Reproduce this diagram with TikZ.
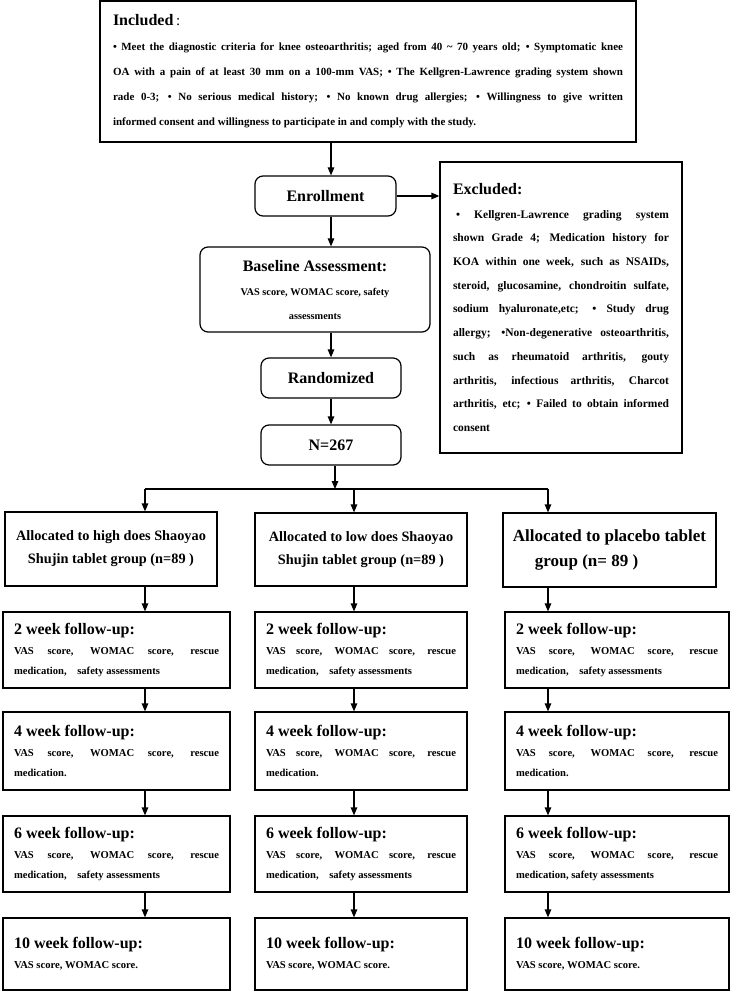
\documentclass[tikz,border=0pt]{standalone}
\usepackage{fontspec}
\setmainfont{Liberation Serif}
\usetikzlibrary{arrows.meta, positioning}
\newcommand{\boxhead}[1]{{\fontsize{16}{20}\selectfont #1}}
\tikzset{
    inclbox/.style={rectangle, draw, line width=1.2pt, align=justify, inner xsep=13pt,
                    font=\fontsize{11}{25}\selectfont\bfseries},
    exclbox/.style={rectangle, draw, line width=1.2pt, align=justify, inner xsep=13pt,
                    font=\fontsize{11.5}{23.7}\selectfont\bfseries},
    stepbox/.style={rectangle, rounded corners=8pt, draw, line width=1.2pt, align=center,
                    font=\fontsize{16}{20}\selectfont\bfseries},
    groupbox/.style={rectangle, draw, line width=1.2pt, align=center,
                     font=\fontsize{14.3}{23}\selectfont\bfseries},
    fubox/.style={rectangle, draw, line width=1.2pt, align=justify, inner xsep=11pt,
                  font=\fontsize{10.6}{20}\selectfont\bfseries},
    arrow/.style={-{Triangle[length=8pt, width=6.5pt]}, line width=1.2pt},
}

\begin{document}
\begin{tikzpicture}[x=1pt, y=-1pt]
            \useasboundingbox (0,0) rectangle (730,992);
            % screening and enrollment
            \node[inclbox, minimum width=536pt, minimum height=141pt, text width=510pt] (incl) at (368,71.5) {\boxhead{Included} {\mdseries\fontsize{15}{20}\selectfont :}\\
                • Meet the diagnostic criteria for knee osteoarthritis; aged from 40 \textasciitilde{} 70 years old; • Symptomatic knee\linebreak
                OA with a pain of at least 30 mm on a 100-mm VAS; • The Kellgren-Lawrence grading system shown\linebreak
                rade 0-3; • No serious medical history; • No known drug allergies; • Willingness to give written\linebreak
                informed consent and willingness to participate in and comply with the study.};
            \node[stepbox, minimum width=141pt, minimum height=40pt] (enrol) at (325.5,196) {Enrollment};
            \node[exclbox, minimum width=242pt, minimum height=291pt, text width=216pt] (excl) at (561,307.5) {\boxhead{Excluded:}\\
                \hspace*{3pt}• Kellgren-Lawrence grading system\linebreak
                shown Grade 4; Medication history for\linebreak
                KOA within one week, such as NSAIDs,\linebreak
                steroid, glucosamine, chondroitin sulfate,\linebreak
                sodium hyaluronate,etc; • Study drug\linebreak
                allergy; •Non-degenerative osteoarthritis,\linebreak
                such as rheumatoid arthritis, gouty\linebreak
                arthritis, infectious arthritis, Charcot\linebreak
                arthritis, etc; • Failed to obtain informed\linebreak
                consent};
            \node[stepbox, minimum width=230pt, minimum height=85pt, font=\fontsize{10.3}{24}\selectfont\bfseries] (base) at (315,289.5) {\boxhead{Baseline Assessment:}\\ VAS score, WOMAC score, safety\\ assessments};
            \node[stepbox, minimum width=140pt, minimum height=40pt] (rand) at (331,378) {Randomized};
            \node[stepbox, minimum width=140pt, minimum height=40pt] (total) at (331,445) {N=267};

            % allocation
            \node[groupbox, minimum width=212pt, minimum height=74pt] (highgrp) at (111,549) {Allocated to high does Shaoyao\\ Shujin tablet group (n=89 )};
            \node[groupbox, minimum width=212pt, minimum height=73pt] (lowgrp) at (361,549.5) {Allocated to low does Shaoyao\\ Shujin tablet group (n=89 )};
            \node[groupbox, minimum width=213pt, minimum height=74pt, align=left, font=\fontsize{17}{25}\selectfont\bfseries] (plagrp) at (609.5,550) {Allocated to placebo tablet\\ \hspace*{22pt}group (n= 89 )};

            % follow-up, high dose
            \node[fubox, minimum width=227pt, minimum height=76pt, text width=205pt] (highw2) at (116.5,650) {\boxhead{2 week follow-up:}\\ VAS score, WOMAC score, rescue\linebreak medication,\quad safety assessments};
            \node[fubox, minimum width=227pt, minimum height=78pt, text width=205pt] (highw4) at (116.5,751) {\boxhead{4 week follow-up:}\\ VAS score, WOMAC score, rescue\linebreak medication.};
            \node[fubox, minimum width=227pt, minimum height=76pt, text width=205pt] (highw6) at (116.5,854) {\boxhead{6 week follow-up:}\\ VAS score, WOMAC score, rescue\linebreak medication,\quad safety assessments};
            \node[fubox, minimum width=227pt, minimum height=72pt, text width=205pt] (highw10) at (116.5,954) {\boxhead{10 week follow-up:}\\ VAS score, WOMAC score.};

            % follow-up, low dose
            \node[fubox, minimum width=212pt, minimum height=76pt, text width=190pt] (loww2) at (361,650) {\boxhead{2 week follow-up:}\\ VAS score, WOMAC score, rescue\linebreak medication,\quad safety assessments};
            \node[fubox, minimum width=212pt, minimum height=78pt, text width=190pt] (loww4) at (361,751) {\boxhead{4 week follow-up:}\\ VAS score, WOMAC score, rescue\linebreak medication.};
            \node[fubox, minimum width=212pt, minimum height=76pt, text width=190pt] (loww6) at (361,854) {\boxhead{6 week follow-up:}\\ VAS score, WOMAC score, rescue\linebreak medication,\quad safety assessments};
            \node[fubox, minimum width=212pt, minimum height=72pt, text width=190pt] (loww10) at (361,954) {\boxhead{10 week follow-up:}\\ VAS score, WOMAC score.};

            % follow-up, placebo
            \node[fubox, minimum width=224pt, minimum height=76pt, text width=202pt] (plaw2) at (617,650) {\boxhead{2 week follow-up:}\\ VAS score, WOMAC score, rescue\linebreak medication,\quad safety assessments};
            \node[fubox, minimum width=224pt, minimum height=78pt, text width=202pt] (plaw4) at (617,751) {\boxhead{4 week follow-up:}\\ VAS score, WOMAC score, rescue\linebreak medication.};
            \node[fubox, minimum width=224pt, minimum height=76pt, text width=202pt] (plaw6) at (617,854) {\boxhead{6 week follow-up:}\\ VAS score, WOMAC score, rescue\linebreak medication, safety assessments};
            \node[fubox, minimum width=224pt, minimum height=72pt, text width=202pt] (plaw10) at (617,954) {\boxhead{10 week follow-up:}\\ VAS score, WOMAC score.};

            \coordinate (spine) at (331,0);
            \coordinate (split) at (335,489);
            \coordinate (splitL) at (145,489);
            \coordinate (splitM) at (354,489);
            \coordinate (splitR) at (548,489);

            \draw[arrow] (incl.south -| spine) -- (enrol.north -| spine);
            \draw[arrow] (enrol.east) -- (enrol.east -| excl.west);
            \draw[arrow] (enrol.south -| spine) -- (base.north -| spine);
            \draw[arrow] (base.south -| spine) -- (rand.north -| spine);
            \draw[arrow] (rand.south -| spine) -- (total.north -| spine);
            \draw[arrow] (total.south -| split) -- (split);
            \draw[line width=1.2pt] (splitL) -- (splitR);
            \draw[arrow] (splitL) -- (highgrp.north -| splitL);
            \draw[arrow] (splitM) -- (lowgrp.north -| splitM);
            \draw[arrow] (splitR) -- (plagrp.north -| splitR);

            \draw[arrow] (highgrp.south -| splitL) -- (highw2.north -| splitL);
            \draw[arrow] (highw2.south -| splitL) -- (highw4.north -| splitL);
            \draw[arrow] (highw4.south -| splitL) -- (highw6.north -| splitL);
            \draw[arrow] (highw6.south -| splitL) -- (highw10.north -| splitL);
            \draw[arrow] (lowgrp.south -| splitM) -- (loww2.north -| splitM);
            \draw[arrow] (loww2.south -| splitM) -- (loww4.north -| splitM);
            \draw[arrow] (loww4.south -| splitM) -- (loww6.north -| splitM);
            \draw[arrow] (loww6.south -| splitM) -- (loww10.north -| splitM);
            \draw[arrow] (plagrp.south -| splitR) -- (plaw2.north -| splitR);
            \draw[arrow] (plaw2.south -| splitR) -- (plaw4.north -| splitR);
            \draw[arrow] (plaw4.south -| splitR) -- (plaw6.north -| splitR);
            \draw[arrow] (plaw6.south -| splitR) -- (plaw10.north -| splitR);
        \end{tikzpicture}
\end{document}
